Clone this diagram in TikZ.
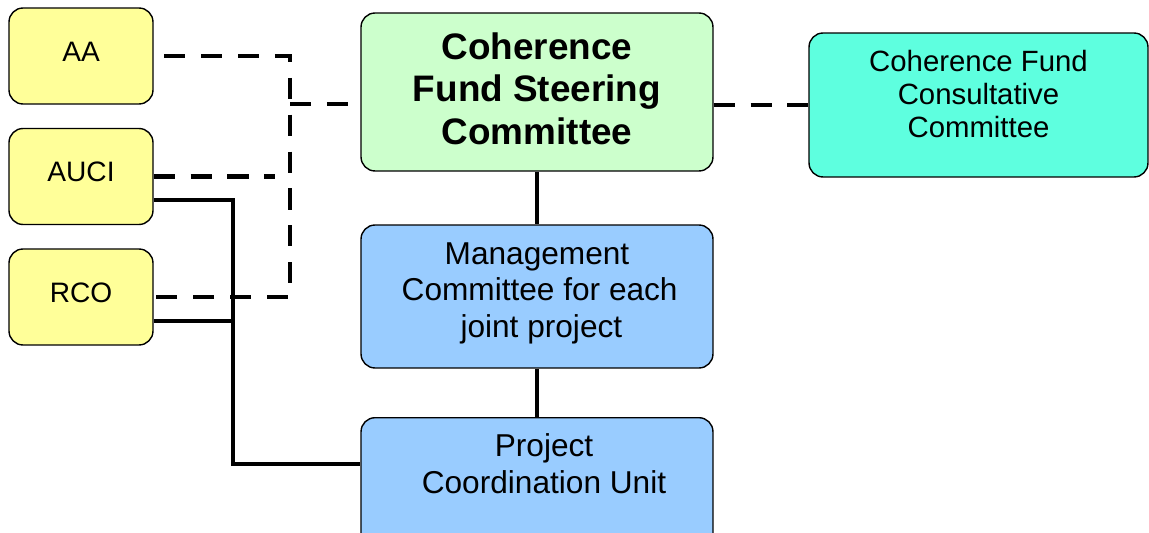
\documentclass[tikz,border=0pt]{standalone}
\usepackage{fontspec}
\setmainfont{Liberation Sans}
\definecolor{partnerfill}{HTML}{FFFF99}
\definecolor{steerfill}{HTML}{CCFFCC}
\definecolor{consultfill}{HTML}{5EFFDF}
\definecolor{projfill}{HTML}{99CCFF}
\begin{document}
\begin{tikzpicture}
	[ x=0.02cm, y=-0.02cm,
	  box/.style={draw,rounded corners=0.28cm,line width=0.8pt,align=center,inner sep=0pt},
	  partner/.style={box,fill=partnerfill,minimum width=2.88cm,minimum height=1.92cm,text depth=0.18cm,font=\fontsize{16}{19}\selectfont},
	  steer/.style={box,fill=steerfill,minimum width=7.04cm,minimum height=3.16cm,text depth=0.14cm,font=\fontsize{21}{24}\selectfont\bfseries},
	  consult/.style={box,fill=consultfill,minimum width=6.78cm,minimum height=2.88cm,font=\fontsize{16.7}{19}\selectfont},
	  proj/.style={box,fill=projfill,minimum width=7.04cm,font=\fontsize{18}{20.9}\selectfont},
	  link/.style={line width=2.4pt},
	  dlink/.style={link,dash pattern=on 12pt off 9pt} ]

	\useasboundingbox (0,0) rectangle (1149,533);

	% partners on the left
	\node[partner] (aa) at (81,56) {AA};
	\node[partner] (auci) at (81,176.5) {AUCI};
	\node[partner] (rco) at (81,297) {RCO};

	% committees
	\node[steer] (steer) at (537,92) {Coherence\\Fund Steering\\Committee};
	\node[consult] (consult) at (978.5,105) {Coherence Fund\\Consultative\\Committee\\[-0.22cm]};
	\node[proj,minimum height=2.86cm] (mgmt) at (537,296.5) {Management\\ \,Committee for each\\ \;joint project\\[-0.47cm]};
	\node[proj,minimum height=2.8cm,anchor=north] (pcu) at (537,417) {};
	\node[font=\fontsize{18}{20.9}\selectfont,align=center] (pcutext) at (544,464) {Project\\Coordination Unit};

	\coordinate (dbus) at (290,104);
	\coordinate (auciend) at (275,176.5);
	\coordinate (sbus) at (233,0);

	% dashed links
	\draw[dlink,dash phase=15pt] (aa.east) -| (dbus |- rco.east) -- (rco.east);
	\draw[dlink] (dbus) -- (dbus -| steer.west);
	\draw[dlink] (auci.east) -- (auciend);
	\draw[dlink] (steer.east |- consult.west) -- (consult.west);

	% solid links
	\draw[link] (steer.south) -- (mgmt.north);
	\draw[link] (mgmt.south) -- (pcu.north);
	\draw[link] (auci.-18) -| (sbus |- pcutext) -- (pcutext -| pcu.west);
	\draw[link] (rco.-18) -- (rco.-18 -| sbus);

\end{tikzpicture}
\end{document}
